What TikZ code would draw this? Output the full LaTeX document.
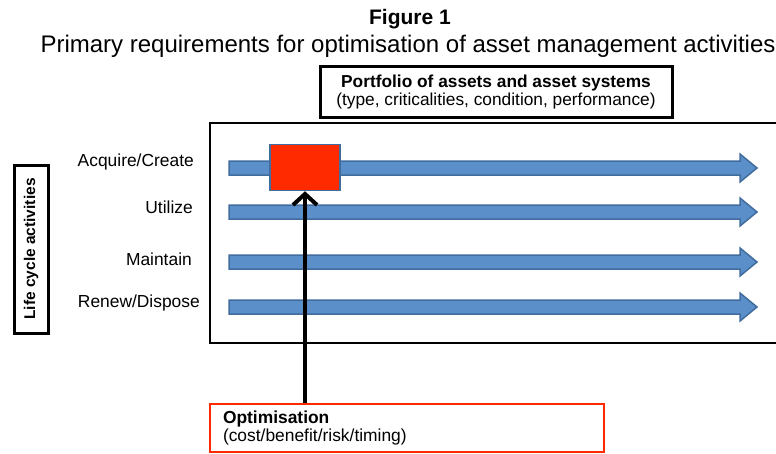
\documentclass[tikz,border=0pt]{standalone}
\usepackage{fontspec}
\setmainfont{Liberation Sans}
\usepackage{tikz}
\usetikzlibrary{arrows.meta}

\definecolor{arrowblue}{RGB}{91,143,201}
\definecolor{arrowedge}{RGB}{65,108,158}
\definecolor{optred}{RGB}{255,42,0}

\tikzset{
    lifearrow/.style = {fill = arrowblue , draw = arrowedge , line width = 1.5pt},
    lbl/.style = {font = \fontsize{17.4}{20}\selectfont , inner sep = 0pt , anchor = east}
}

\begin{document}
\begin{tikzpicture}[x = 1pt , y = -1pt]
    \useasboundingbox (0,0) rectangle (776,453);
    % Τιτλος
    \node[font = \fontsize{21}{24}\selectfont\bfseries] (fig) at (410,19) {Figure 1};
    \node[font = \fontsize{24}{26}\selectfont] (sub) at (408,46) {Primary requirements for optimisation of asset management activities};
    \node[draw , line width = 3pt , minimum width = 352pt , minimum height = 51pt , align = center , font = \fontsize{17.3}{18.5}\selectfont] (portfolio) at (496,92) {\textbf{Portfolio of assets and asset systems}\\(type, criticalities, condition, performance)};
    \draw[line width = 2.5pt] (210,123) rectangle (790,343); % Πλαισιο
    % Βελη
    \foreach \y in {168 , 212 , 262 , 307}
        \draw[lifearrow] (229,\y-7) -- (740,\y-7) -- (740,\y-14) -- (757,\y) -- (740,\y+14) -- (740,\y+7) -- (229,\y+7) -- cycle;
    \node[lbl] (acquire) at (194,162) {Acquire/Create};
    \node[lbl] (utilize) at (193,207) {Utilize};
    \node[lbl] (maintain) at (192,259) {Maintain};
    \node[lbl] (renew) at (200,303) {Renew/Dispose};
    \node[draw , line width = 3pt , rotate = 90 , minimum width = 168pt , minimum height = 34pt , font = \fontsize{15.5}{18}\selectfont\bfseries] (life) at (31,249) {Life cycle activities};
    \node[draw = arrowedge , fill = optred , line width = 1.5pt , minimum width = 70pt , minimum height = 46pt] (target) at (305,167.5) {};
    \node[draw = optred , line width = 2pt , minimum width = 394pt , minimum height = 48pt , text width = 368pt , inner xsep = 13pt , align = left , font = \fontsize{17.4}{18.5}\selectfont] (optim) at (407,428) {\textbf{Optimisation}\\(cost/benefit/risk/timing)};
    \draw[line width = 4pt , -{Straight Barb[length = 11pt , width = 24pt]}] (optim.north -| target) -- (target.south);
\end{tikzpicture}
\end{document}
